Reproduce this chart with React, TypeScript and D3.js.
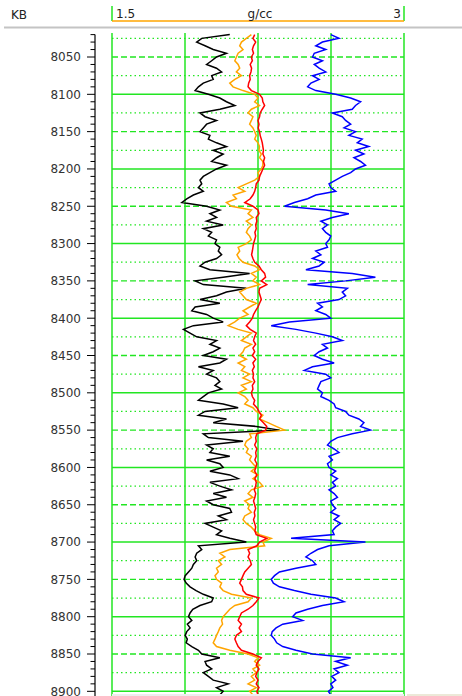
import React from 'react';
import * as d3 from 'd3';

// track scale (g/cc) and depth labels
const trackMin = 1.5;
const trackMax = 3;
const trackUnit = 'g/cc';
const depthRef = 'KB';
const depthLabels = [8050, 8100, 8150, 8200, 8250, 8300, 8350, 8400, 8450, 8500, 8550, 8600, 8650, 8700, 8750, 8800, 8850, 8900];

// curves sampled every 5 ft from 8020 ft
const depthTop = 8020;
const depthStep = 5;

const blackCurve = [
  2.105, 1.961, 1.935, 1.978, 2.020, 2.088, 2.037, 2.012, 1.986, 2.037, 2.063, 2.012, 2.020, 1.969, 1.944, 1.927, 1.995, 2.054, 2.088, 2.131, 2.054, 1.952, 1.978, 2.037, 1.986, 1.969, 1.952, 2.003, 1.995, 2.037, 2.088, 2.020, 2.071, 2.037, 2.012,
  2.088, 2.037, 2.003, 1.969, 1.952, 1.961, 1.944, 1.969, 1.918, 1.884, 1.859, 1.986, 2.054, 2.003, 2.037, 1.986, 2.071, 1.969, 2.012, 1.995, 2.037, 2.029, 2.054, 2.046, 2.063, 2.037, 1.978, 1.952, 2.003, 2.207, 2.071, 1.927, 1.969, 2.190, 2.088, 2.037,
  1.952, 2.054, 1.927, 1.910, 1.986, 2.020, 2.071, 1.918, 1.867, 1.901, 1.935, 2.037, 2.003, 2.054, 2.020, 1.969, 2.088, 2.054, 1.944, 2.020, 1.986, 2.037, 2.054, 2.029, 2.063, 1.995, 1.969, 1.944, 2.071, 2.148, 1.978, 1.944, 2.088, 2.020, 2.241, 2.360,
  1.969, 1.995, 2.173, 1.986, 2.020, 2.003, 2.105, 1.986, 2.054, 2.071, 2.003, 2.105, 2.148, 2.003, 2.054, 2.114, 2.020, 2.088, 1.986, 2.020, 2.105, 2.114, 2.046, 2.088, 1.978, 2.020, 2.063, 2.037, 2.105, 2.190, 1.944, 1.961, 1.935, 1.927, 1.935, 1.918, 1.910,
  1.893, 1.876, 1.870, 1.881, 1.901, 1.932, 1.969, 2.020, 2.012, 1.952, 1.915, 1.901, 1.893, 1.910, 1.887, 1.901, 1.884, 1.876, 1.887, 1.881, 1.910, 1.944, 1.961, 2.054, 1.978, 1.986, 2.012, 1.969, 1.995, 2.020, 2.097, 2.037, 2.071, 2.054,
];

const orangeCurve = [
  2.216, 2.190, 2.165, 2.156, 2.173, 2.148, 2.139, 2.131, 2.148, 2.156, 2.139, 2.165, 2.131, 2.105, 2.122, 2.173, 2.233, 2.250, 2.233, 2.258, 2.216, 2.199, 2.224, 2.216, 2.207, 2.224, 2.233, 2.241, 2.233, 2.250, 2.258, 2.255, 2.267, 2.258, 2.275,
  2.275, 2.267, 2.250, 2.258, 2.233, 2.190, 2.148, 2.182, 2.122, 2.139, 2.088, 2.114, 2.216, 2.199, 2.224, 2.190, 2.216, 2.199, 2.190, 2.207, 2.216, 2.190, 2.148, 2.156, 2.142, 2.153, 2.173, 2.233, 2.258, 2.216, 2.241, 2.224, 2.258, 2.190, 2.156, 2.173,
  2.190, 2.241, 2.207, 2.173, 2.199, 2.156, 2.131, 2.097, 2.148, 2.216, 2.190, 2.165, 2.216, 2.182, 2.173, 2.156, 2.190, 2.148, 2.182, 2.165, 2.207, 2.173, 2.216, 2.165, 2.190, 2.148, 2.182, 2.199, 2.182, 2.224, 2.241, 2.275, 2.258, 2.301, 2.343, 2.386,
  2.207, 2.216, 2.190, 2.182, 2.199, 2.190, 2.216, 2.207, 2.224, 2.241, 2.216, 2.250, 2.224, 2.258, 2.275, 2.216, 2.199, 2.224, 2.182, 2.207, 2.199, 2.216, 2.182, 2.173, 2.190, 2.216, 2.233, 2.258, 2.318, 2.275, 2.284, 2.105, 2.054, 2.080, 2.046, 2.063, 2.037,
  2.046, 2.029, 2.037, 2.063, 2.054, 2.071, 2.114, 2.216, 2.199, 2.131, 2.105, 2.088, 2.071, 2.063, 2.068, 2.054, 2.046, 2.037, 2.029, 2.020, 2.037, 2.105, 2.199, 2.250, 2.233, 2.258, 2.224, 2.241, 2.216, 2.233, 2.199, 2.241, 2.207, 2.224,
];

const redCurve = [
  2.233, 2.224, 2.238, 2.227, 2.221, 2.227, 2.216, 2.221, 2.210, 2.217, 2.214, 2.207, 2.210, 2.202, 2.199, 2.216, 2.258, 2.272, 2.275, 2.284, 2.272, 2.261, 2.258, 2.250, 2.255, 2.251, 2.258, 2.261, 2.267, 2.272, 2.275, 2.278, 2.275, 2.284, 2.278,
  2.284, 2.275, 2.267, 2.258, 2.255, 2.241, 2.238, 2.233, 2.224, 2.210, 2.182, 2.224, 2.250, 2.255, 2.241, 2.244, 2.238, 2.241, 2.234, 2.238, 2.233, 2.227, 2.224, 2.221, 2.217, 2.224, 2.233, 2.255, 2.267, 2.284, 2.289, 2.267, 2.295, 2.258, 2.255, 2.261,
  2.267, 2.258, 2.250, 2.238, 2.227, 2.221, 2.207, 2.190, 2.210, 2.241, 2.233, 2.227, 2.238, 2.224, 2.233, 2.221, 2.238, 2.224, 2.231, 2.221, 2.227, 2.224, 2.233, 2.221, 2.224, 2.216, 2.221, 2.233, 2.227, 2.244, 2.255, 2.267, 2.258, 2.278, 2.295, 2.289,
  2.244, 2.238, 2.241, 2.233, 2.244, 2.238, 2.241, 2.234, 2.244, 2.238, 2.233, 2.244, 2.234, 2.241, 2.238, 2.231, 2.238, 2.234, 2.227, 2.233, 2.238, 2.231, 2.234, 2.227, 2.233, 2.238, 2.234, 2.241, 2.295, 2.258, 2.244, 2.199, 2.207, 2.199, 2.210, 2.216, 2.199,
  2.182, 2.173, 2.165, 2.156, 2.170, 2.173, 2.190, 2.255, 2.241, 2.224, 2.199, 2.165, 2.156, 2.148, 2.165, 2.153, 2.165, 2.139, 2.131, 2.139, 2.148, 2.165, 2.224, 2.267, 2.250, 2.241, 2.255, 2.244, 2.238, 2.250, 2.241, 2.255, 2.244, 2.250,
];

const blueCurve = [
  2.624, 2.666, 2.581, 2.547, 2.598, 2.539, 2.530, 2.581, 2.539, 2.564, 2.598, 2.530, 2.564, 2.522, 2.505, 2.547, 2.649, 2.726, 2.777, 2.751, 2.734, 2.632, 2.683, 2.700, 2.726, 2.692, 2.751, 2.717, 2.785, 2.760, 2.819, 2.751, 2.794, 2.743, 2.777,
  2.802, 2.751, 2.726, 2.683, 2.649, 2.615, 2.624, 2.649, 2.547, 2.505, 2.437, 2.386, 2.598, 2.717, 2.632, 2.573, 2.607, 2.581, 2.598, 2.624, 2.615, 2.598, 2.607, 2.547, 2.573, 2.530, 2.590, 2.564, 2.496, 2.734, 2.853, 2.700, 2.505, 2.709, 2.683, 2.700,
  2.666, 2.556, 2.581, 2.547, 2.598, 2.624, 2.411, 2.318, 2.445, 2.547, 2.632, 2.683, 2.581, 2.607, 2.564, 2.539, 2.581, 2.641, 2.530, 2.488, 2.598, 2.624, 2.573, 2.564, 2.556, 2.581, 2.573, 2.615, 2.641, 2.649, 2.700, 2.717, 2.768, 2.794, 2.777, 2.828,
  2.734, 2.658, 2.624, 2.607, 2.641, 2.666, 2.615, 2.632, 2.607, 2.615, 2.649, 2.624, 2.658, 2.632, 2.649, 2.615, 2.641, 2.658, 2.624, 2.632, 2.649, 2.624, 2.666, 2.641, 2.675, 2.649, 2.632, 2.641, 2.420, 2.802, 2.615, 2.556, 2.522, 2.496, 2.530, 2.547, 2.445,
  2.360, 2.335, 2.318, 2.329, 2.360, 2.437, 2.522, 2.649, 2.692, 2.581, 2.505, 2.445, 2.428, 2.479, 2.377, 2.343, 2.323, 2.318, 2.335, 2.346, 2.377, 2.445, 2.530, 2.726, 2.649, 2.709, 2.641, 2.666, 2.629, 2.649, 2.624, 2.635, 2.612, 2.624,
];

const curves = [
  { values: blackCurve, color: '#000000' },
  { values: orangeCurve, color: '#ffa500' },
  { values: redCurve, color: '#ff0000' },
  { values: blueCurve, color: '#0000ff' },
];

const green = '#22e622';
const font = '"DejaVu Sans", Verdana, sans-serif';

export default function App() {
  const width = 462;
  const height = 696;
  const left = 112;
  const right = 404;
  const plotTop = 33;

  const x = d3.scaleLinear().domain([trackMin, trackMax]).range([left, right]);
  const y = d3.scaleLinear().domain([8050, 8850]).range([57, 654]);

  const depths = blackCurve.map((_, i) => depthTop + i * depthStep);
  const line = d3.line<number>()
    .x((v) => x(v))
    .y((_, i) => y(depths[i]));

  const vGrid = d3.range(5).map((i) => trackMin + (i * (trackMax - trackMin)) / 4);
  const hGrid = d3.range(8025, 8925, 25);
  const minorTicks = d3.range(8020, 8910, 10);

  return (
    <svg width={width} height={height} style={{ position: 'absolute', left: 0, top: 0, background: '#fff' }}>
      {/* header */}
      <text x={11} y={19} fontFamily={font} fontSize={12} fill="#222">{depthRef}</text>
      <line x1={left} x2={left} y1={6} y2={21} stroke={green} strokeWidth={1.5} />
      <line x1={right} x2={right} y1={6} y2={21} stroke={green} strokeWidth={1.5} />
      <line x1={left} x2={right} y1={21} y2={21} stroke="#ffa500" strokeWidth={1.5} />
      <text x={left + 4} y={18} fontFamily={font} fontSize={12} fill="#222">{trackMin}</text>
      <text x={(left + right) / 2 + 2} y={18} fontFamily={font} fontSize={12} fill="#222" textAnchor="middle">{trackUnit}</text>
      <text x={right - 3} y={18} fontFamily={font} fontSize={12} fill="#222" textAnchor="end">{trackMax}</text>
      <line x1={4} x2={width} y1={27.5} y2={27.5} stroke="#c4c4c4" strokeWidth={2} />

      {/* depth axis */}
      <line x1={95} x2={95} y1={y(8020)} y2={height} stroke="#000" strokeWidth={1.2} />
      {minorTicks.map((d) => (
        <line key={'t' + d} x1={d % 50 === 0 ? 87 : 90.5} x2={95} y1={y(d)} y2={y(d)} stroke="#000" strokeWidth={1} />
      ))}
      {depthLabels.map((d) => (
        <text key={'l' + d} x={81} y={y(d)} dy="0.36em" fontFamily={font} fontSize={12} fill="#333" textAnchor="end">{d}</text>
      ))}

      {/* grid */}
      {hGrid.map((d) => (
        <line
          key={'h' + d}
          x1={left}
          x2={right}
          y1={y(d)}
          y2={y(d)}
          stroke={green}
          strokeWidth={d % 100 === 0 ? 1.5 : 1.3}
          strokeDasharray={d % 100 === 0 ? undefined : d % 50 === 0 ? '6,3' : '1.5,3'}
        />
      ))}
      {vGrid.map((v) => (
        <line key={'v' + v} x1={x(v)} x2={x(v)} y1={plotTop} y2={height} stroke={green} strokeWidth={1.5} />
      ))}

      {/* curves */}
      {curves.map((c) => (
        <path key={c.color} d={line(c.values) || ''} fill="none" stroke={c.color} strokeWidth={1.5} strokeLinejoin="miter" />
      ))}

      {/* bottom bar */}
      <rect x={left} y={694} width={right - left} height={2} fill="#eeeeee" />
      <rect x={407} y={694} width={width - 407} height={2} fill="#ece9d8" />
    </svg>
  );
}
